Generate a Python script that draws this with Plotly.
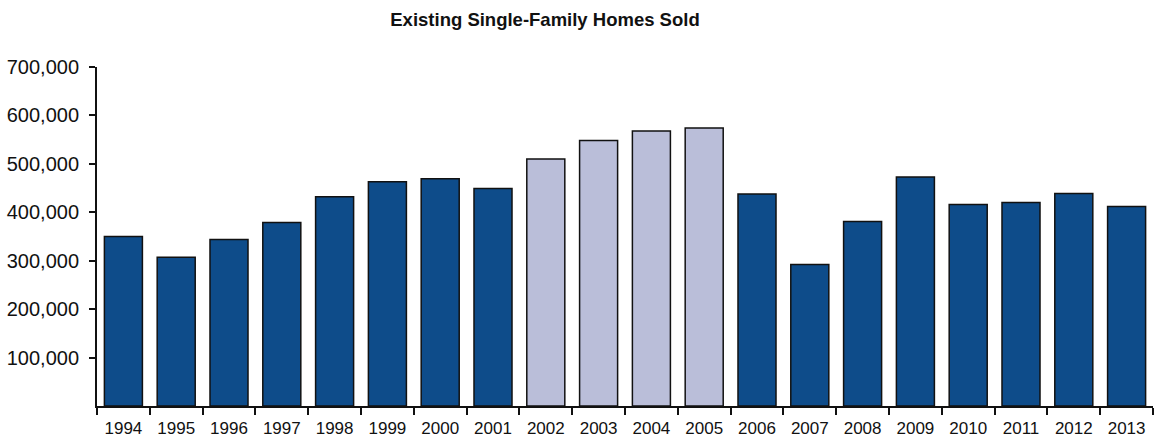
import plotly.graph_objects as go

years = [str(y) for y in range(1994, 2014)]
sold = [350000, 307000, 344000, 379000, 432000, 463000, 469000, 449000,
        510000, 548000, 568000, 574000, 438000, 292000, 381000, 473000,
        416000, 420000, 439000, 412000]
highlight_years = ["2002", "2003", "2004", "2005"]
dark = "#0E4C8A"
light = "#BABED9"
colors = [light if y in highlight_years else dark for y in years]
y_ticks = [100000, 200000, 300000, 400000, 500000, 600000, 700000]

fig = go.Figure(go.Bar(
    x=years, y=sold, marker=dict(color=colors, line=dict(color="#111111", width=1.5)),
))

fig.update_layout(
    width=1159, height=441,
    margin=dict(l=97, r=6, t=67, b=35, autoexpand=False),
    paper_bgcolor="white", plot_bgcolor="white",
    bargap=0.28,
    showlegend=False,
    font=dict(family="Liberation Sans, Arial, sans-serif", color="#111111"),
    title=dict(text="<b>Existing Single-Family Homes Sold</b>", x=545/1159, xanchor="center",
               y=1-20/441, yanchor="middle", font=dict(size=18.5, color="#111111")),
)
fig.update_xaxes(
    type="category", showline=True, linecolor="#111111", linewidth=2,
    ticks="outside", tickson="boundaries", ticklen=7, tickwidth=2, tickcolor="#111111",
    tickfont=dict(size=17), showgrid=False, automargin=False, ticklabelstandoff=6,
)
fig.update_yaxes(
    range=[0, 700000], showline=True, linecolor="#111111", linewidth=2,
    ticks="outside", ticklen=6, tickwidth=2, tickcolor="#111111",
    tickvals=y_ticks, ticktext=[f"{v:,}" for v in y_ticks],
    tickfont=dict(size=20), showgrid=False, zeroline=False, automargin=False,
    ticklabelstandoff=6,
)

fig.write_html("out.html", config={"displayModeBar": False},
               post_script="document.body.style.margin='0';document.body.style.overflow='hidden';")
